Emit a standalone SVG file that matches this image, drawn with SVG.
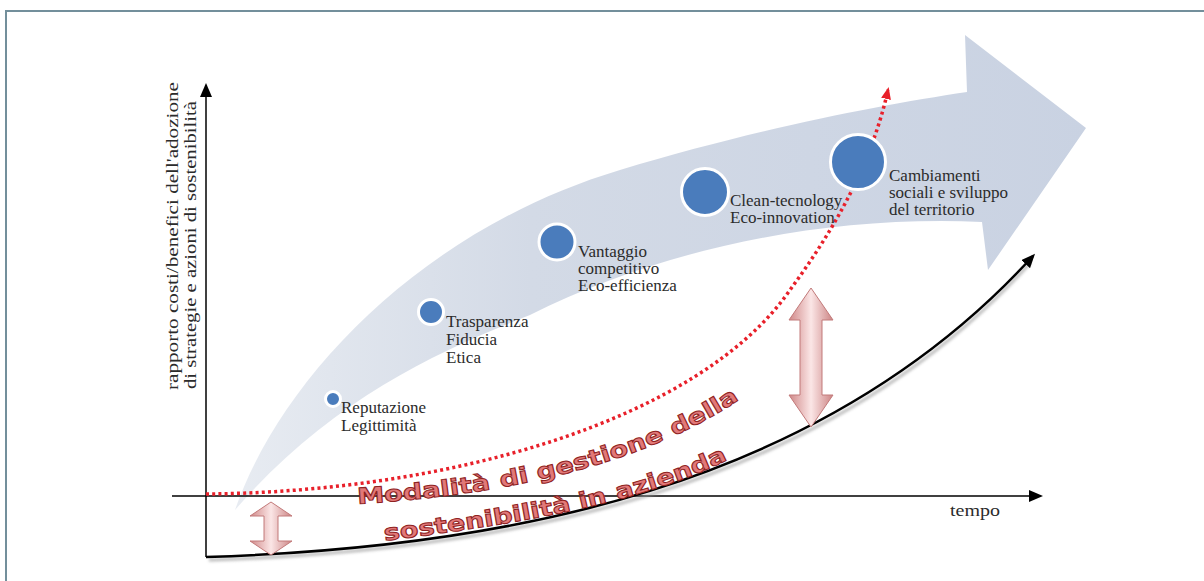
<svg xmlns="http://www.w3.org/2000/svg" width="1204" height="581" viewBox="0 0 1204 581">
<defs>
<style>
.lbl{font-family:"Liberation Serif","Times New Roman",serif;font-size:17px;fill:#2b2b2b}
.wa{font-family:"DejaVu Sans","Liberation Sans",sans-serif;font-weight:bold;font-size:22px;fill:#e27878;stroke:#8e2222;stroke-width:1}
.dot{fill:#4a7cbc;stroke:#ffffff;stroke-width:3}
.dbl{fill:url(#pink);stroke:#c27a7a;stroke-width:1}
.axis{stroke:#000;stroke-width:1.5;fill:none}
</style>
<linearGradient id="band" x1="230" y1="0" x2="1090" y2="0" gradientUnits="userSpaceOnUse">
<stop offset="0" stop-color="#e8ecf2"/>
<stop offset="0.35" stop-color="#d3dae6"/>
<stop offset="1" stop-color="#c9d2e2"/>
</linearGradient>
<linearGradient id="pink" x1="0" y1="0" x2="1" y2="0">
<stop offset="0" stop-color="#d08888"/>
<stop offset="0.5" stop-color="#fbe6e6"/>
<stop offset="1" stop-color="#cc8484"/>
</linearGradient>
<filter id="sh" x="-10%" y="-10%" width="120%" height="120%">
<feGaussianBlur stdDeviation="1.5"/>
</filter>
<marker id="ahBlack" markerWidth="14" markerHeight="12" refX="11" refY="6" orient="auto" markerUnits="userSpaceOnUse">
<path d="M0,0 L14,6 L0,12 Z" fill="#000"/>
</marker>
<marker id="ahRed" markerWidth="12" markerHeight="10" refX="9" refY="5" orient="auto" markerUnits="userSpaceOnUse">
<path d="M0,0 L12,5 L0,10 Z" fill="#e8202a"/>
</marker>
<path id="wa1" d="M 355,504 C 480,497 640,472 750,392"/>
<path id="wa2" d="M 383,541 C 500,526 640,506 735,456"/>
</defs>

<rect width="1204" height="581" fill="#ffffff"/>
<path d="M6,581 V11 H1204" stroke="#738f9b" stroke-width="2" fill="none"/>

<g id="band-arrow">
<path d="M 235,510 C 280,380 420,230 620,170 C 760,128 880,105 967,92 L 965,35 L 1086,128 L 988,270 L 982,222 C 820,215 660,250 530,315 C 440,350 330,400 235,510 Z" fill="url(#band)"/>
</g>

<g id="connectors">
<path d="M 172,496 H 1040" class="axis" marker-end="url(#ahBlack)"/>
<path d="M 206,557 V 86" class="axis" marker-end="url(#ahBlack)"/>
<path d="M 209,560 C 502,551 822,493 1030,263" stroke="#9a9a9a" stroke-width="3" fill="none" filter="url(#sh)" opacity="0.7"/>
<path d="M 206,557 C 500,548 820,490 1033,256" stroke="#000" stroke-width="2.5" fill="none" marker-end="url(#ahBlack)"/>
<path d="M 206,494 C 450,492 700,420 790,290 C 830,235 870,170 888,90" stroke="#e8202a" stroke-width="3.5" stroke-dasharray="3 3.2" fill="none" marker-end="url(#ahRed)"/>
</g>

<g id="axis-labels">
<text class="lbl" transform="translate(178,236) rotate(-90)" text-anchor="middle" textLength="308" lengthAdjust="spacingAndGlyphs">rapporto costi/benefici dell'adozione</text>
<text class="lbl" transform="translate(196,245) rotate(-90)" text-anchor="middle" textLength="288" lengthAdjust="spacingAndGlyphs">di strategie e azioni di sostenibilità</text>
<text class="lbl" x="950" y="516" textLength="50" lengthAdjust="spacingAndGlyphs">tempo</text>
</g>

<g id="node-reputazione">
<circle class="dot" cx="333" cy="399" r="7.5"/>
<text class="lbl" x="341" y="413">Reputazione</text>
<text class="lbl" x="341" y="431">Legittimità</text>
</g>
<g id="node-trasparenza">
<circle class="dot" cx="431" cy="312" r="12.5"/>
<text class="lbl" x="446" y="327">Trasparenza</text>
<text class="lbl" x="446" y="345">Fiducia</text>
<text class="lbl" x="446" y="363">Etica</text>
</g>
<g id="node-vantaggio">
<circle class="dot" cx="557" cy="242" r="18"/>
<text class="lbl" x="578" y="257">Vantaggio</text>
<text class="lbl" x="578" y="274">competitivo</text>
<text class="lbl" x="578" y="291">Eco-efficienza</text>
</g>
<g id="node-clean">
<circle class="dot" cx="705" cy="192" r="23.5"/>
<text class="lbl" x="730" y="206">Clean-tecnology</text>
<text class="lbl" x="730" y="223">Eco-innovation</text>
</g>
<g id="node-cambiamenti">
<circle class="dot" cx="858" cy="162" r="27.5"/>
<text class="lbl" x="889" y="181">Cambiamenti</text>
<text class="lbl" x="889" y="198">sociali e sviluppo</text>
<text class="lbl" x="889" y="215">del territorio</text>
</g>

<g id="gap-arrows">
<path class="dbl" d="M 811,288 L 833,320 L 822,320 L 822,395 L 833,395 L 811,427 L 789,395 L 800,395 L 800,320 L 789,320 Z"/>
<path class="dbl" d="M 271,502 L 292,516 L 278,516 L 278,541 L 292,541 L 271,555 L 250,541 L 264,541 L 264,516 L 250,516 Z"/>
</g>

<g id="wordart">
<text class="wa"><textPath href="#wa1" startOffset="3" textLength="134" lengthAdjust="spacingAndGlyphs">Modalità</textPath></text>
<text class="wa"><textPath href="#wa1" startOffset="147" textLength="29" lengthAdjust="spacingAndGlyphs">di</textPath></text>
<text class="wa"><textPath href="#wa1" startOffset="185" textLength="133" lengthAdjust="spacingAndGlyphs">gestione</textPath></text>
<text class="wa"><textPath href="#wa1" startOffset="328" textLength="75" lengthAdjust="spacingAndGlyphs">della</textPath></text>
<text class="wa"><textPath href="#wa2" startOffset="2" textLength="189" lengthAdjust="spacingAndGlyphs">sostenibilità</textPath></text>
<text class="wa"><textPath href="#wa2" startOffset="200" textLength="28" lengthAdjust="spacingAndGlyphs">in</textPath></text>
<text class="wa"><textPath href="#wa2" startOffset="238" textLength="118" lengthAdjust="spacingAndGlyphs">azienda</textPath></text>
</g>
</svg>
